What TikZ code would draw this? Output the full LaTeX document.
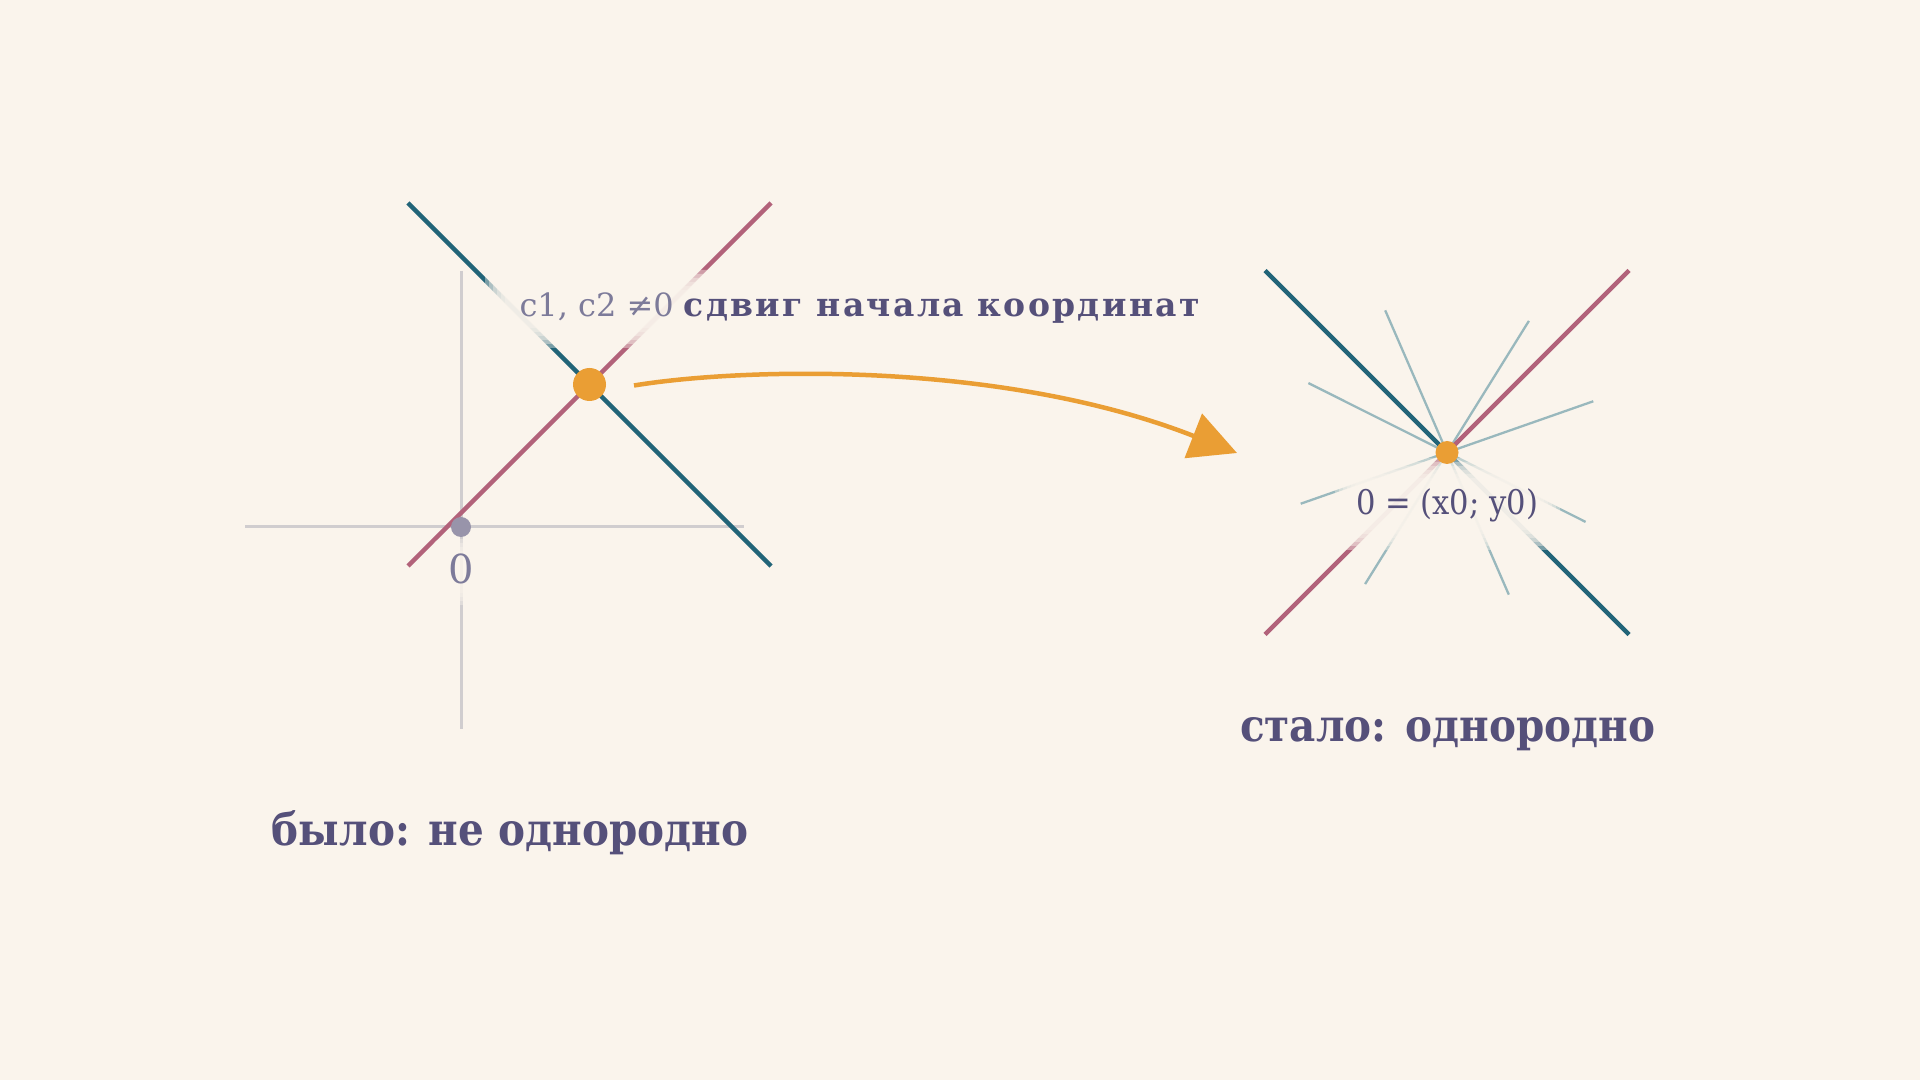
\documentclass[tikz,border=0pt]{standalone}
\usepackage{fontspec}
\setmainfont{DejaVu Serif}
\newfontfamily\narrowserif{DejaVu Serif}[FakeStretch=0.9]
\usetikzlibrary{arrows.meta}

\definecolor{bgc}{HTML}{FAF4EC}
\definecolor{tealc}{HTML}{226478}
\definecolor{pinkc}{HTML}{B2627A}
\definecolor{orangec}{HTML}{EA9E34}
\definecolor{textc}{HTML}{55507A}
\definecolor{subc}{HTML}{7D7B9A}
\definecolor{axisc}{HTML}{D0CDCF}
\definecolor{zeroc}{HTML}{9894AA}
\definecolor{rayc}{HTML}{99B8BD}

\tikzstyle{axis}=[draw=axisc, line width=3pt]
\tikzstyle{tline}=[draw=tealc, line width=4.5pt]
\tikzstyle{pline}=[draw=pinkc, line width=4.5pt]
\tikzstyle{ray}=[draw=rayc, line width=2.3pt]
\tikzstyle{hot}=[circle, fill=orangec, inner sep=0pt]
\tikzstyle{halo}=[fill=bgc, opacity=0.4, rounded corners=8pt]
\tikzstyle{caption}=[text=textc, font=\narrowserif\bfseries\fontsize{45}{54}\selectfont]
\tikzstyle{shiftarr}=[draw=orangec, line width=4.5pt, -{Triangle[length=47pt,width=47pt]}]

\begin{document}
\begin{tikzpicture}[x=1pt,y=1pt]

\fill[bgc] (0,0) rectangle (1920,1080);

% before: lines off the origin
\coordinate (o1) at (461,553);
\coordinate (p1) at (589.5,695.5);
\draw[axis] (245,553) -- (744,553);
\draw[axis] (o1) ++(0,256) -- ++(0,-458);
\draw[tline] (p1) ++(-181.5,181.5) -- ++(363,-363);
\draw[pline] (p1) ++(-181.5,-181.5) -- ++(363,363);

% after: lines through the new origin
\coordinate (p2) at (1447,627.5);
\foreach \a in {19.3,58.1,113.5,153.4}
  \draw[ray] (p2) ++(\a:155) -- ++(\a+180:310);
\draw[tline] (p2) ++(-182,182) -- ++(364,-364);
\draw[pline] (p2) ++(-182,-182) -- ++(364,364);

% soft background behind the labels
\foreach \d in {20,16,...,0}
  \fill[halo] (505-\d,752-\d) rectangle (1200+\d,790+\d);
\foreach \d in {12,8,...,0}
  \fill[halo] (445-\d,487-\d) rectangle (477+\d,529+\d);
\foreach \d in {20,16,...,0}
  \fill[halo] (1355-\d,550-\d) rectangle (1540+\d,602+\d);

\node[circle, fill=zeroc, inner sep=0pt, minimum size=20pt] (zero) at (o1) {};
\node[hot, minimum size=33pt] (dot1) at (p1) {};
\node[hot, minimum size=23pt] (dot2) at (p2) {};

\node[anchor=base, text=subc, font=\fontsize{40}{48}\selectfont] (zlbl) at (461,496) {0};
\node[anchor=base west, font=\fontsize{32}{38}\selectfont] (shift) at (516,763)
  {{\color{subc}c1, c2 ≠0} \textcolor{textc}{\fontsize{33}{38}\selectfont\bfseries\addfontfeature{LetterSpace=7}сдвиг начала координат}};
\node[anchor=base, text=textc, font=\narrowserif\fontsize{34}{40}\selectfont] (newo) at (1447,565) {0 = (x0; y0)};

\coordinate (arrA) at (634,694.5);
\coordinate (arrB) at (1237,627);
\draw[shiftarr] (arrA) .. controls (740,712) and (1000,720) .. (arrB);

\node[caption, anchor=base] (was) at (510,235) {было: не однородно};
\node[caption, anchor=base] (now) at (1447.5,338) {стало: однородно};

\end{tikzpicture}
\end{document}
